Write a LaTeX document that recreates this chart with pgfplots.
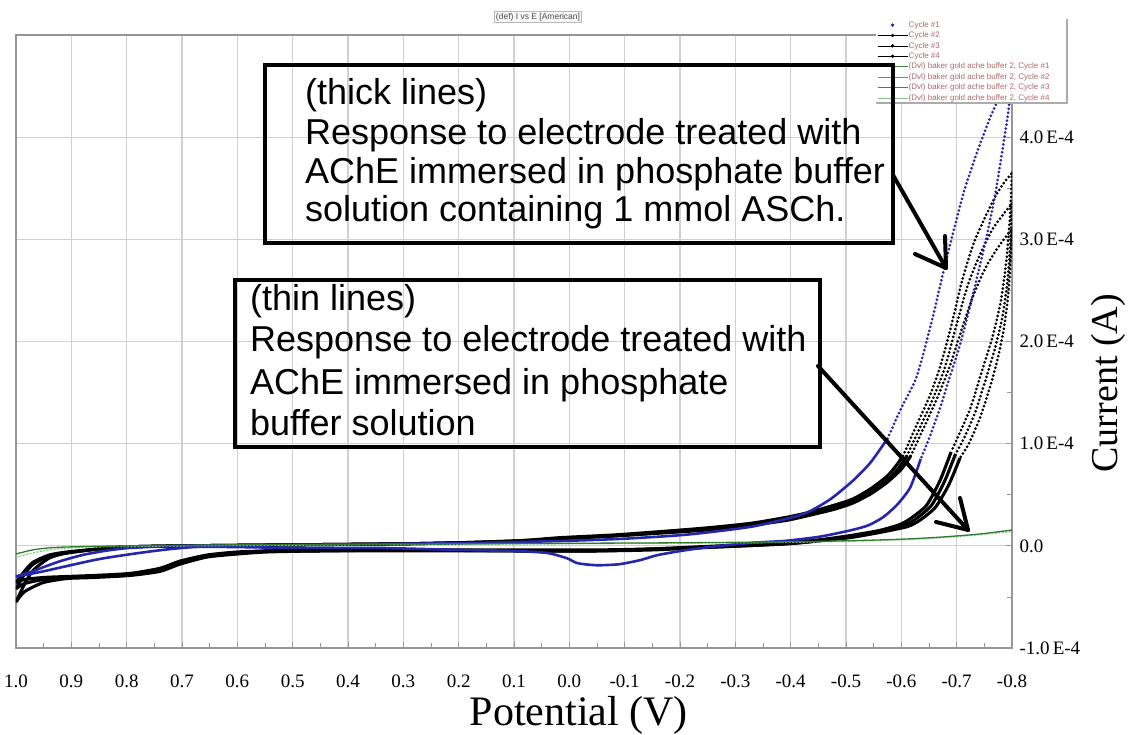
\documentclass[border=0pt]{standalone}
\usepackage{pgfplots}
\pgfplotsset{compat=1.18}
\usepackage{fontspec}
\setmainfont{Liberation Serif}
\newfontfamily\arial{Liberation Sans}
\definecolor{cvblue}{RGB}{38,38,170}
\definecolor{gridgray}{RGB}{208,208,208}
\definecolor{axgray}{RGB}{150,150,150}
\definecolor{gdark}{RGB}{45,125,45}
\definecolor{glight}{RGB}{140,200,140}
\definecolor{legtext}{RGB}{175,105,105}
\pgfplotsset{
 solidK/.style={black, line width=3.1pt, smooth, tension=0.4, line join=round, forget plot},
 dotK/.style={black, line width=3pt, smooth, tension=0.4, dash pattern=on 0pt off 4pt, line cap=round, forget plot},
 solidB/.style={cvblue, line width=2.6pt, smooth, tension=0.4, line join=round, forget plot},
 dotB/.style={cvblue, line width=3pt, smooth, tension=0.4, dash pattern=on 0pt off 4pt, line cap=round, forget plot},
}
\begin{document}
\begin{tikzpicture}
\useasboundingbox (-16pt,-86pt) rectangle (1115pt,648pt);
\begin{axis}[
 at={(0pt,0pt)}, anchor=south west,
 scale only axis, width=996pt, height=613pt,
 x dir=reverse, xmin=-0.8, xmax=1.0, ymin=-1, ymax=5,
 xtick={-0.8,-0.7,-0.6,-0.5,-0.4,-0.3,-0.2,-0.1,0,0.1,0.2,0.3,0.4,0.5,0.6,0.7,0.8,0.9,1.0},
 xticklabels={\mbox{-0.8},\mbox{-0.7},\mbox{-0.6},\mbox{-0.5},\mbox{-0.4},\mbox{-0.3},\mbox{-0.2},\mbox{-0.1},\mbox{0.0},\mbox{0.1},\mbox{0.2},\mbox{0.3},\mbox{0.4},\mbox{0.5},\mbox{0.6},\mbox{0.7},\mbox{0.8},\mbox{0.9},\mbox{1.0}},
 ytick={-1,0,1,2,3,4},
 yticklabels={\mbox{-1.0\,E-4},\mbox{0.0},\mbox{1.0\,E-4},\mbox{2.0\,E-4},\mbox{3.0\,E-4},\mbox{4.0\,E-4}},
 minor x tick num=1, minor y tick num=1,
 xtick pos=bottom, ytick pos=right, yticklabel pos=right,
 grid=major, major grid style={draw=gridgray, line width=1.3pt},
 axis line style={draw=axgray, line width=1.2pt},
 major tick style={draw=axgray, line width=0.8pt},
 minor tick style={draw=axgray, line width=0.8pt},
 major tick length=6pt, minor tick length=5pt,
 tick label style={font=\fontsize{19}{21}\selectfont},
 xticklabel style={anchor=base, inner sep=0pt, yshift=-39pt},
 yticklabel style={anchor=west, xshift=4pt},
 xlabel={Potential (V)}, ylabel={Current (A)},
 every axis x label/.style={at={(rel axis cs:0.565,0)}, anchor=base, inner sep=0pt, yshift=-77pt, font=\fontsize{42}{46}\selectfont},
 every axis y label/.style={at={(rel axis cs:1.097,0.432)}, anchor=center, rotate=90, font=\fontsize{38}{42}\selectfont},
 legend style={at={(rel axis cs:0.8635,1.026)}, anchor=north west, draw=none, fill=white,
   inner xsep=1pt, inner ysep=1pt, font=\arial\fontsize{8}{9}\selectfont, text=legtext, row sep=0.8pt,
   nodes={inner sep=0.8pt, text height=6.2pt, text depth=1.8pt},
   /tikz/every even column/.append style={column sep=9pt}},
 legend cell align=left,
]
% legend images
\addlegendimage{legend image code/.code={\fill[cvblue] (15pt,0pt) circle (1.5pt);}}
\addlegendentry{Cycle \#1}
\addlegendimage{legend image code/.code={\draw[black, line width=0.5pt] (0pt,0pt)--(30pt,0pt); \fill[black] (15pt,0pt) circle (1.5pt);}}
\addlegendentry{Cycle \#2}
\addlegendimage{legend image code/.code={\draw[black, line width=0.5pt] (0pt,0pt)--(30pt,0pt); \fill[black] (15pt,0pt) circle (1.5pt);}}
\addlegendentry{Cycle \#3}
\addlegendimage{legend image code/.code={\draw[black, line width=0.5pt] (0pt,0pt)--(30pt,0pt); \fill[black] (15pt,0pt) circle (1.5pt);}}
\addlegendentry{Cycle \#4}
\addlegendimage{legend image code/.code={\draw[gdark!70!gray, line width=0.7pt] (0pt,0pt)--(30pt,0pt);}}
\addlegendentry{(Dvl) baker gold ache buffer 2, Cycle \#1}
\addlegendimage{legend image code/.code={\draw[gray, line width=0.7pt] (0pt,0pt)--(30pt,0pt);}}
\addlegendentry{(Dvl) baker gold ache buffer 2, Cycle \#2}
\addlegendimage{legend image code/.code={\draw[gdark!60!gray, line width=0.7pt] (0pt,0pt)--(30pt,0pt);}}
\addlegendentry{(Dvl) baker gold ache buffer 2, Cycle \#3}
\addlegendimage{legend image code/.code={\draw[glight!80!gray, line width=0.7pt] (0pt,0pt)--(30pt,0pt);}}
\addlegendentry{(Dvl) baker gold ache buffer 2, Cycle \#4}

% ---- Cycle 2 (black)
\addplot[solidK] coordinates {(1.000,-0.42) (0.985,-0.28) (0.969,-0.18) (0.940,-0.10) (0.908,-0.07) (0.850,-0.03) (0.800,-0.01) (0.700,0.00) (0.500,0.01) (0.300,0.02) (0.200,0.03) (0.090,0.05) (0.017,0.08) (-0.090,0.11) (-0.236,0.17) (-0.327,0.22) (-0.393,0.28) (-0.435,0.33) (-0.480,0.40) (-0.513,0.46) (-0.545,0.56) (-0.574,0.68) (-0.590,0.78) (-0.603,0.88)};
\addplot[dotK] coordinates {(-0.603,0.88) (-0.625,1.15) (-0.650,1.45) (-0.670,1.75) (-0.690,2.15) (-0.710,2.60) (-0.730,2.95) (-0.750,3.20) (-0.770,3.42) (-0.785,3.55) (-0.800,3.65)};
\addplot[dotK] coordinates {(-0.800,3.65) (-0.796,3.20) (-0.790,2.80) (-0.780,2.40) (-0.765,2.05) (-0.745,1.70) (-0.725,1.35) (-0.705,1.10) (-0.690,0.92)};
\addplot[solidK] coordinates {(-0.690,0.92) (-0.670,0.64) (-0.646,0.40) (-0.620,0.28) (-0.598,0.21) (-0.560,0.15) (-0.507,0.10) (-0.453,0.06) (-0.393,0.03) (-0.272,0.00) (-0.150,-0.03) (-0.050,-0.05) (0.100,-0.05) (0.300,-0.04) (0.450,-0.05) (0.546,-0.05) (0.600,-0.07) (0.655,-0.10) (0.704,-0.16) (0.740,-0.23) (0.794,-0.28) (0.860,-0.30) (0.908,-0.31) (0.951,-0.33) (0.985,-0.37) (1.000,-0.42)};
% ---- Cycle 3 (black)
\addplot[solidK] coordinates {(1.000,-0.55) (0.985,-0.38) (0.969,-0.24) (0.940,-0.12) (0.908,-0.07) (0.850,-0.03) (0.800,-0.01) (0.700,0.00) (0.500,0.01) (0.300,0.02) (0.200,0.03) (0.090,0.05) (0.017,0.07) (-0.090,0.10) (-0.236,0.16) (-0.327,0.21) (-0.393,0.27) (-0.435,0.31) (-0.480,0.38) (-0.513,0.44) (-0.545,0.53) (-0.574,0.64) (-0.595,0.76) (-0.610,0.88)};
\addplot[dotK] coordinates {(-0.610,0.88) (-0.633,1.15) (-0.658,1.45) (-0.679,1.75) (-0.699,2.15) (-0.720,2.55) (-0.742,2.85) (-0.765,3.10) (-0.785,3.25) (-0.800,3.35)};
\addplot[dotK] coordinates {(-0.800,3.35) (-0.797,2.95) (-0.792,2.60) (-0.783,2.25) (-0.770,1.95) (-0.752,1.62) (-0.733,1.30) (-0.713,1.05) (-0.698,0.90)};
\addplot[solidK] coordinates {(-0.698,0.90) (-0.678,0.63) (-0.655,0.40) (-0.628,0.27) (-0.605,0.20) (-0.560,0.14) (-0.507,0.09) (-0.453,0.05) (-0.393,0.02) (-0.272,-0.01) (-0.150,-0.04) (-0.050,-0.05) (0.100,-0.05) (0.300,-0.05) (0.450,-0.05) (0.546,-0.06) (0.600,-0.08) (0.655,-0.11) (0.704,-0.18) (0.740,-0.25) (0.794,-0.29) (0.860,-0.31) (0.908,-0.32) (0.951,-0.36) (0.985,-0.45) (1.000,-0.55)};
% ---- Cycle 4 (black)
\addplot[solidK] coordinates {(1.000,-0.36) (0.985,-0.25) (0.969,-0.16) (0.940,-0.09) (0.908,-0.06) (0.850,-0.03) (0.800,-0.01) (0.700,0.00) (0.500,0.01) (0.300,0.02) (0.200,0.03) (0.090,0.04) (0.017,0.07) (-0.090,0.10) (-0.236,0.15) (-0.327,0.20) (-0.393,0.25) (-0.435,0.30) (-0.480,0.36) (-0.513,0.42) (-0.545,0.51) (-0.574,0.62) (-0.600,0.75) (-0.617,0.88)};
\addplot[dotK] coordinates {(-0.617,0.88) (-0.640,1.15) (-0.665,1.45) (-0.687,1.75) (-0.708,2.10) (-0.730,2.45) (-0.752,2.72) (-0.772,2.90) (-0.788,3.02) (-0.800,3.10)};
\addplot[dotK] coordinates {(-0.800,3.10) (-0.797,2.75) (-0.793,2.45) (-0.786,2.15) (-0.775,1.85) (-0.760,1.55) (-0.742,1.25) (-0.722,1.00) (-0.706,0.86)};
\addplot[solidK] coordinates {(-0.706,0.86) (-0.686,0.60) (-0.662,0.38) (-0.636,0.26) (-0.612,0.19) (-0.560,0.13) (-0.507,0.08) (-0.453,0.05) (-0.393,0.02) (-0.272,-0.01) (-0.150,-0.03) (-0.050,-0.04) (0.100,-0.04) (0.300,-0.04) (0.450,-0.04) (0.546,-0.05) (0.600,-0.06) (0.655,-0.09) (0.704,-0.15) (0.740,-0.22) (0.794,-0.27) (0.860,-0.29) (0.908,-0.30) (0.951,-0.31) (0.985,-0.33) (1.000,-0.36)};
% ---- Cycle 1 (blue)
\addplot[solidB] coordinates {(1.000,-0.30) (0.975,-0.26) (0.951,-0.21) (0.920,-0.15) (0.880,-0.09) (0.840,-0.05) (0.794,-0.02) (0.700,0.00) (0.500,0.01) (0.300,0.02) (0.150,0.03) (0.000,0.05) (-0.100,0.07) (-0.213,0.11) (-0.332,0.19) (-0.422,0.31) (-0.470,0.45) (-0.513,0.64) (-0.545,0.82) (-0.575,1.05)};
\addplot[dotB] coordinates {(-0.575,1.05) (-0.600,1.35) (-0.628,1.66) (-0.655,2.20) (-0.679,2.75) (-0.700,3.20) (-0.715,3.50) (-0.740,3.90) (-0.765,4.25) (-0.784,4.45) (-0.800,4.55)};
\addplot[dotB] coordinates {(-0.800,4.55) (-0.792,4.20) (-0.782,3.85) (-0.770,3.45) (-0.755,3.05) (-0.740,2.70) (-0.722,2.30) (-0.705,1.95) (-0.688,1.66) (-0.670,1.35) (-0.650,1.05) (-0.635,0.85)};
\addplot[solidB] coordinates {(-0.635,0.85) (-0.616,0.57) (-0.592,0.40) (-0.567,0.28) (-0.540,0.20) (-0.507,0.15) (-0.453,0.09) (-0.393,0.05) (-0.332,0.03) (-0.272,0.00) (-0.213,-0.04) (-0.160,-0.09) (-0.128,-0.14) (-0.090,-0.18) (-0.050,-0.19) (-0.015,-0.17) (0.005,-0.12) (0.040,-0.07) (0.100,-0.05) (0.200,-0.04) (0.350,-0.02) (0.500,-0.02) (0.667,-0.01) (0.750,-0.05) (0.850,-0.13) (0.951,-0.25) (1.000,-0.30)};
% ---- Buffer only (green, thin)
\addplot[glight, line width=1.4pt, smooth, dash pattern=on 2pt off 1.5pt, forget plot] coordinates {(1.000,-0.11) (0.970,-0.07) (0.940,-0.04) (0.900,-0.02) (0.850,-0.01) (0.700,0.00) (0.400,0.01) (0.000,0.02) (-0.400,0.035) (-0.600,0.06) (-0.700,0.09) (-0.800,0.14)};
\addplot[gdark, line width=1.3pt, smooth, forget plot] coordinates {(1.000,-0.08) (0.970,-0.04) (0.940,-0.02) (0.900,-0.01) (0.800,0.00) (0.600,0.01) (0.400,0.015) (0.200,0.02) (0.000,0.025) (-0.200,0.03) (-0.400,0.04) (-0.507,0.05) (-0.600,0.065) (-0.670,0.085) (-0.740,0.115) (-0.800,0.155)};
\end{axis}
\begin{scope}[x=1pt, y=-1pt, shift={(-16pt,648pt)}]
 % legend shadow frame
 \draw[gray!65, line width=2.2pt] (1067,19) -- (1067,103) -- (876,103);
 % title
 \node[draw=gray!55, fill=gray!6, inner sep=1.5pt, font=\arial\fontsize{8.5}{9}\selectfont, text=gray!60!black] at (538,17) {(def) I vs E [American]};
 % box 1
 \draw[line width=4pt] (265,65) rectangle (893,243);
 \begin{scope}[every node/.style={anchor=base west, inner sep=0pt, font=\arial\fontsize{36}{40}\selectfont}]
 \node at (305,105) {(thick lines)};
 \node at (305,145) {Response to electrode treated with};
 \node at (305,184) {AChE immersed in phosphate buffer};
 \node at (305,222) {solution containing 1 mmol ASCh.};
 \node at (250,311) {(thin lines)};
 \node at (250,352) {Response to electrode treated with};
 \node at (250,394) {AChE immersed in phosphate};
 \node at (250,435) {buffer solution};
 \end{scope}
 % box 2
 \draw[line width=4pt] (235,280) rectangle (820,447);
 % arrows
 \draw[line width=4pt, line cap=round] (893,175) -- (946,268);
 \draw[line width=4pt, line cap=round, line join=round] (945,236) -- (946,268) -- (915,254);
 \draw[line width=4pt, line cap=round] (818,366) -- (968,530);
 \draw[line width=4pt, line cap=round, line join=round] (960,498) -- (968,530) -- (936,522);
\end{scope}
\end{tikzpicture}
\end{document}
